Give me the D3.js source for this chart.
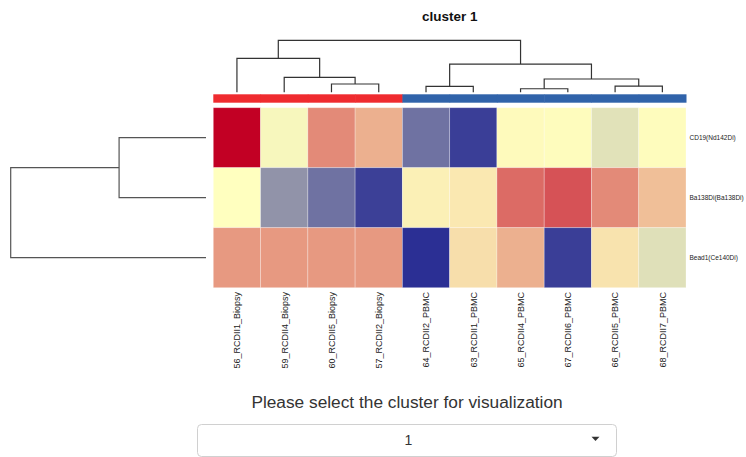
<!DOCTYPE html>
<html>
<head>
<meta charset="utf-8">
<script src="https://cdn.jsdelivr.net/npm/d3@7"></script>
<style>
  html, body { margin: 0; padding: 0; background: #fff; }
  svg { display: block; font-family: "Liberation Sans", Arial, sans-serif; }
</style>
</head>
<body>
<svg id="chart" width="746" height="457"></svg>
<script>
// Samples (columns) in their stored order
const samples = [
  "56_RCDII1_Biopsy", "59_RCDII4_Biopsy", "60_RCDII5_Biopsy", "57_RCDII2_Biopsy",
  "64_RCDII2_PBMC", "63_RCDII1_PBMC", "65_RCDII4_PBMC", "67_RCDII6_PBMC",
  "66_RCDII5_PBMC", "68_RCDII7_PBMC"
];
const sampleGroup = ["Biopsy", "Biopsy", "Biopsy", "Biopsy",
  "PBMC", "PBMC", "PBMC", "PBMC", "PBMC", "PBMC"];
const groups = ["Biopsy", "PBMC"];
const groupColors = ["#ef2b2f", "#3063aa"];

// Markers (rows)
const markers = ["CD19(Nd142Di)", "Ba138Di(Ba138Di)", "Bead1(Ce140Di)"];

// Row-scaled expression, one array per marker
const cd19  = [ 1.00, -0.04,  0.46,  0.31, -0.68, -0.93,  0.02,  0.01, -0.14,  0.01];
const ba138 = [ 0.00, -0.52, -0.68, -0.92,  0.06,  0.09,  0.58,  0.68,  0.46,  0.25];
const bead1 = [ 0.40,  0.40,  0.40,  0.40, -1.00,  0.13,  0.31, -0.93,  0.11, -0.15];
const values = [cd19, ba138, bead1];

// Hierarchical clustering results (hclust-style merges: negative = leaf, positive = earlier merge)
const colMerge   = [[-3, -4], [-2, 1], [-1, 2], [-5, -6], [-7, -8], [-9, -10], [5, 6], [4, 7], [3, 8]];
const colHeights = [0.51, 0.92, 2.09, 0.37, 0.22, 0.38, 0.82, 1.74, 3.20];
const rowMerge   = [[-1, -2], [1, -3]];
const rowHeights = [1.78, 4.00];

const title = "cluster 1";
const prompt = "Please select the cluster for visualization";
const selected = "1";

const svg = d3.select("#chart");

// Build a d3.hierarchy from a merge table
function buildTree(merge, heights) {
  const nodes = merge.map((m, i) => ({ height: heights[i], m }));
  const resolve = k => k < 0 ? { leaf: -k - 1, height: 0 } : nodes[k - 1];
  nodes.forEach(n => { n.children = n.m.map(resolve); });
  return d3.hierarchy(nodes[nodes.length - 1]);
}

const colTree = buildTree(colMerge, colHeights);
const rowTree = buildTree(rowMerge, rowHeights);
const colOrder = colTree.leaves().map(d => d.data.leaf);
const rowOrder = rowTree.leaves().map(d => d.data.leaf);

// Layout
const hm = { left: 213.3, right: 686, top: 107.7, bottom: 287.7 };
const x = d3.scaleBand().domain(colOrder).range([hm.left, hm.right]);
const y = d3.scaleBand().domain(rowOrder).range([hm.top, hm.bottom]);

const color = d3.scaleLinear()
  .domain([-1, 0, 1])
  .range(["#2b2f94", "#ffffbf", "#c20024"])
  .clamp(true);

// Heatmap cells
const cells = [];
values.forEach((row, r) => row.forEach((v, c) => cells.push({ r, c, v })));
svg.append("g").selectAll("rect").data(cells).join("rect")
  .attr("x", d => x(d.c))
  .attr("y", d => y(d.r))
  .attr("width", x.bandwidth())
  .attr("height", y.bandwidth())
  .attr("fill", d => color(d.v))
  .attr("stroke", "rgba(255,255,255,0.35)")
  .attr("stroke-width", 0.8);

// Column annotation bar
const groupColor = d3.scaleOrdinal().domain(groups).range(groupColors);
svg.append("g").selectAll("rect").data(colOrder).join("rect")
  .attr("x", c => x(c))
  .attr("y", 94.3)
  .attr("width", x.bandwidth() + 0.5)
  .attr("height", 8.4)
  .attr("fill", c => groupColor(sampleGroup[c]));

// Column dendrogram
const colH = d3.scaleLinear().domain([0, d3.max(colHeights)]).range([92.3, 40.3]);
function posCol(node) {
  if (node.children) {
    node.children.forEach(posCol);
    node.px = d3.mean(node.children, ch => ch.px);
  } else {
    node.px = x(node.data.leaf) + x.bandwidth() / 2;
  }
}
posCol(colTree);
const colPaths = [];
colTree.each(n => {
  if (!n.children) return;
  const yy = colH(n.data.height);
  const [a, b] = n.children;
  colPaths.push(`M${a.px},${colH(a.data.height)}V${yy}H${b.px}V${colH(b.data.height)}`);
});
svg.append("g").selectAll("path").data(colPaths).join("path")
  .attr("d", d => d)
  .attr("fill", "none")
  .attr("stroke", "#333")
  .attr("stroke-width", 1.2);

// Row dendrogram
const rowH = d3.scaleLinear().domain([0, d3.max(rowHeights)]).range([206, 10.7]);
function posRow(node) {
  if (node.children) {
    node.children.forEach(posRow);
    node.py = d3.mean(node.children, ch => ch.py);
  } else {
    node.py = y(node.data.leaf) + y.bandwidth() / 2;
  }
}
posRow(rowTree);
const rowPaths = [];
rowTree.each(n => {
  if (!n.children) return;
  const xx = rowH(n.data.height);
  const [a, b] = n.children;
  rowPaths.push(`M${rowH(a.data.height)},${a.py}H${xx}V${b.py}H${rowH(b.data.height)}`);
});
svg.append("g").selectAll("path").data(rowPaths).join("path")
  .attr("d", d => d)
  .attr("fill", "none")
  .attr("stroke", "#555")
  .attr("stroke-width", 1.2);

// Row labels
svg.append("g").selectAll("text").data(rowOrder).join("text")
  .attr("x", hm.right + 3.5)
  .attr("y", r => y(r) + y.bandwidth() / 2 + 2.5)
  .attr("font-size", 6.5)
  .attr("fill", "#222")
  .text(r => markers[r]);

// Column labels
svg.append("g").selectAll("text").data(colOrder).join("text")
  .attr("transform", c => `translate(${x(c) + x.bandwidth() / 2 + 3.3},292) rotate(-90)`)
  .attr("text-anchor", "end")
  .attr("font-size", 9)
  .attr("fill", "#222")
  .text(c => samples[c]);

// Title
svg.append("text")
  .attr("x", (hm.left + hm.right) / 2)
  .attr("y", 21)
  .attr("text-anchor", "middle")
  .attr("font-size", 13.5)
  .attr("font-weight", "bold")
  .attr("fill", "#111")
  .text(title);

// Cluster selector
svg.append("text")
  .attr("x", 407)
  .attr("y", 407.5)
  .attr("text-anchor", "middle")
  .attr("font-size", 17.3)
  .attr("fill", "#333")
  .text(prompt);

svg.append("rect")
  .attr("x", 197.5).attr("y", 424.5)
  .attr("width", 419).attr("height", 32)
  .attr("rx", 4)
  .attr("fill", "#fff")
  .attr("stroke", "#d0d0d0");

svg.append("text")
  .attr("x", 408.3)
  .attr("y", 445)
  .attr("text-anchor", "middle")
  .attr("font-size", 14)
  .attr("fill", "#333")
  .text(selected);

svg.append("path")
  .attr("d", "M591.5,436.8H599.5L595.5,441Z")
  .attr("fill", "#333");
</script>
</body>
</html>
